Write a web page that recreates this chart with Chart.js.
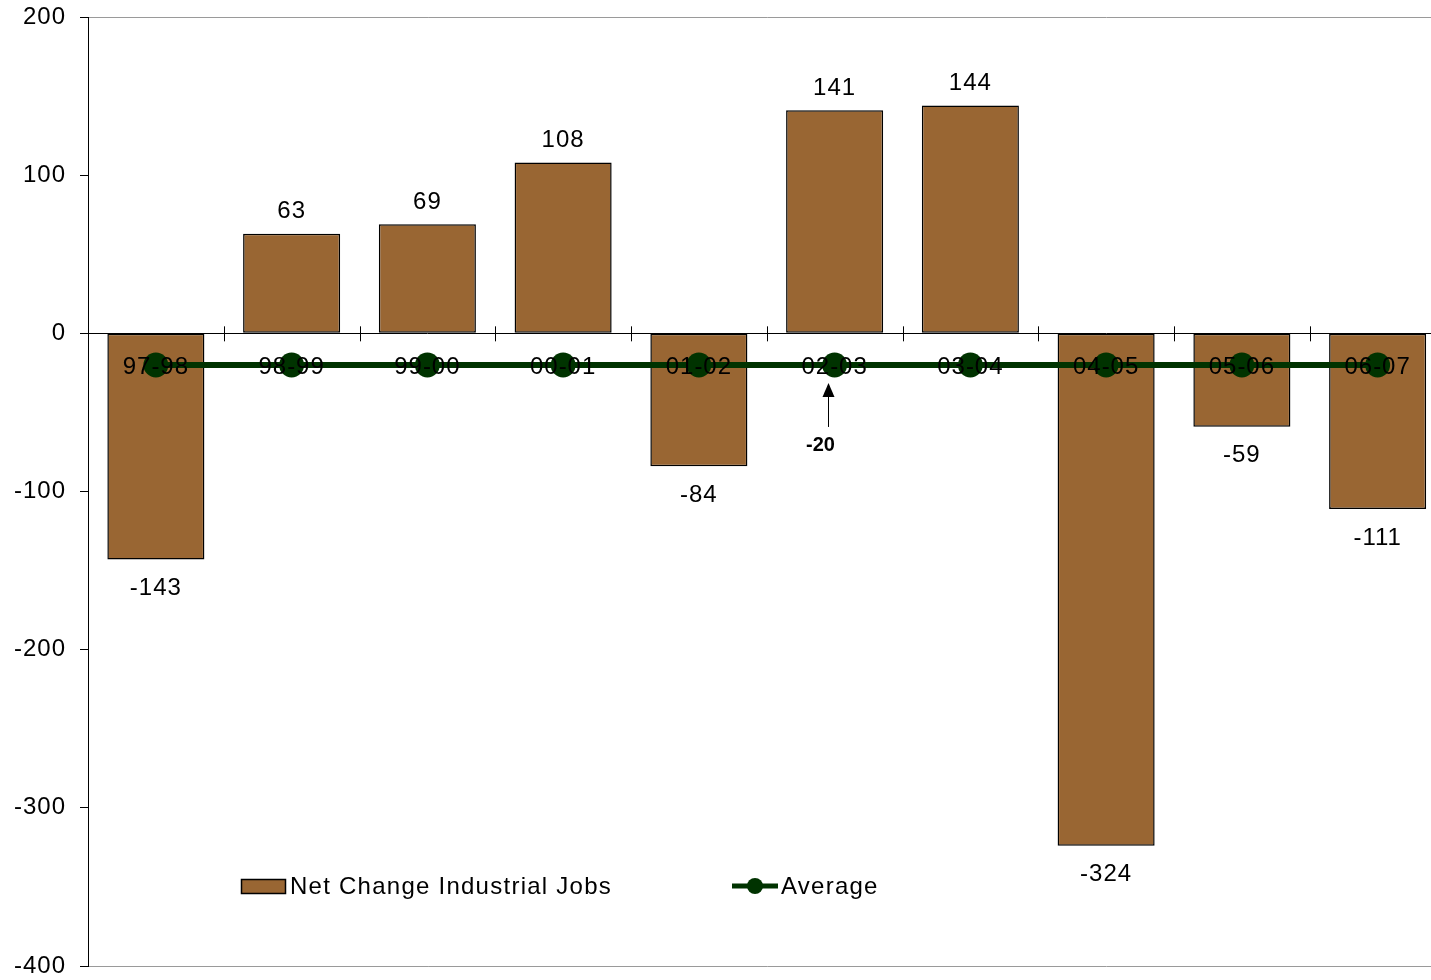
<!DOCTYPE html>
<html>
<head>
<meta charset="utf-8">
<script src="https://cdn.jsdelivr.net/npm/chart.js@4/dist/chart.umd.min.js"></script>
<style>
html,body{margin:0;padding:0;background:#fff;overflow:hidden;width:1431px;height:980px;}
canvas{display:block;}
</style>
</head>
<body>
<canvas id="c" width="1458" height="980"></canvas>
<script>
const categories = ['97-98','98-99','99-00','00-01','01-02','02-03','03-04','04-05','05-06','06-07'];
const netChange = [-143, 63, 69, 108, -84, 141, 144, -324, -59, -111];
const average = [-20, -20, -20, -20, -20, -20, -20, -20, -20, -20];
const yTicks = [200, 100, 0, -100, -200, -300, -400];
const annotationCategory = '02-03';
const annotationValue = -20;

const FONT = "'Liberation Sans', Arial, sans-serif";
const BAR = '#996633';
const LINE = '#003300';

const extras = {
  id: 'extras',
  beforeDraw(chart) {
    chart.ctx.letterSpacing = '1px';
  },
  afterDatasetsDraw(chart) {
    const ctx = chart.ctx;
    const meta = chart.getDatasetMeta(1);
    ctx.save();
    ctx.letterSpacing = '1px';
    ctx.fillStyle = '#000';
    ctx.font = '24px ' + FONT;
    ctx.textAlign = 'center';
    ctx.textBaseline = 'middle';
    meta.data.forEach((el, i) => {
      const v = netChange[i];
      if (v >= 0) ctx.fillText(String(v), el.x, el.y - 22);
      else ctx.fillText(String(v), el.x, el.y + 29);
    });
    ctx.restore();
  },
  afterDraw(chart) {
    const ctx = chart.ctx;
    const xs = chart.scales.x, ys = chart.scales.y;
    const y0 = ys.getPixelForValue(0);
    ctx.save();
    ctx.strokeStyle = '#000';
    ctx.lineWidth = 1;
    const n = categories.length;
    const step = xs.getPixelForValue(1) - xs.getPixelForValue(0);
    for (let i = 1; i < n; i++) {
      const x = Math.round(xs.getPixelForValue(i) - step / 2) + 0.5;
      ctx.beginPath();
      ctx.moveTo(x, y0 - 7);
      ctx.lineTo(x, y0 + 8);
      ctx.stroke();
    }
    // annotation arrow
    const ax = Math.round(xs.getPixelForValue(categories.indexOf(annotationCategory)) - 7) + 0.5;
    const ay = ys.getPixelForValue(annotationValue);
    ctx.beginPath();
    ctx.moveTo(ax, ay + 62);
    ctx.lineTo(ax, ay + 30);
    ctx.stroke();
    ctx.fillStyle = '#000';
    ctx.beginPath();
    ctx.moveTo(ax, ay + 18);
    ctx.lineTo(ax - 6, ay + 32);
    ctx.lineTo(ax + 6, ay + 32);
    ctx.closePath();
    ctx.fill();
    ctx.font = 'bold 20px ' + FONT;
    ctx.textAlign = 'center';
    ctx.textBaseline = 'middle';
    ctx.letterSpacing = '0px';
    ctx.fillText(String(annotationValue), ax - 8, ay + 81);
    // legend
    ctx.font = '24px ' + FONT;
    ctx.letterSpacing = '1.25px';
    ctx.textAlign = 'left';
    ctx.textBaseline = 'middle';
    ctx.fillStyle = BAR;
    ctx.fillRect(241.5, 879.5, 44, 14);
    ctx.strokeStyle = '#000';
    ctx.lineWidth = 1.5;
    ctx.strokeRect(241.5, 879.5, 44, 14);
    ctx.fillStyle = '#000';
    ctx.fillText('Net Change Industrial Jobs', 290, 887);
    ctx.strokeStyle = LINE;
    ctx.lineWidth = 5;
    ctx.beginPath();
    ctx.moveTo(732, 886);
    ctx.lineTo(778, 886);
    ctx.stroke();
    ctx.fillStyle = LINE;
    ctx.beginPath();
    ctx.arc(755, 886, 8, 0, Math.PI * 2);
    ctx.fill();
    ctx.fillStyle = '#000';
    ctx.fillText('Average', 781, 887);
    ctx.restore();
  }
};

new Chart(document.getElementById('c'), {
  data: {
    labels: categories,
    datasets: [
      {
        type: 'line',
        label: 'Average',
        data: average,
        borderColor: LINE,
        backgroundColor: LINE,
        borderWidth: 6,
        pointRadius: 12.5,
        pointBackgroundColor: LINE,
        pointBorderColor: LINE,
        pointBorderWidth: 0,
        fill: false,
        order: 0
      },
      {
        type: 'bar',
        label: 'Net Change Industrial Jobs',
        data: netChange,
        backgroundColor: BAR,
        borderColor: '#000',
        borderWidth: 1.5,
        borderSkipped: false,
        categoryPercentage: 1,
        barPercentage: 0.715,
        order: 1
      }
    ]
  },
  options: {
    responsive: false,
    animation: false,
    devicePixelRatio: 1,
    layout: { padding: { top: 17, bottom: 14, left: 0, right: 5 } },
    plugins: { legend: { display: false }, tooltip: { enabled: false } },
    scales: {
      x: {
        type: 'category',
        position: { y: 0 },
        offset: true,
        afterFit(scale) { scale.paddingLeft = 0; scale.paddingRight = 0; },
        grid: { display: false },
        border: { display: true, color: '#000', width: 1, z: 1 },
        ticks: { z: 2, color: '#000', font: { family: FONT, size: 24 }, padding: 12, maxRotation: 0, autoSkip: false }
      },
      y: {
        type: 'linear',
        position: 'left',
        min: -400,
        max: 200,
        afterFit(scale) { scale.width = 88; scale.paddingTop = 0; scale.paddingBottom = 0; },
        afterBuildTicks(scale) { scale.ticks = yTicks.map(v => ({ value: v })); },
        grid: {
          drawOnChartArea: true,
          color: ctx => (ctx.tick && (ctx.tick.value === 200 || ctx.tick.value === -400)) ? '#9a9a9a' : 'rgba(0,0,0,0)',
          tickColor: '#000',
          tickLength: 8
        },
        border: { display: true, color: '#000', width: 1 },
        ticks: { color: '#000', font: { family: FONT, size: 24 }, padding: 14 }
      }
    }
  },
  plugins: [extras]
});
</script>
</body>
</html>
